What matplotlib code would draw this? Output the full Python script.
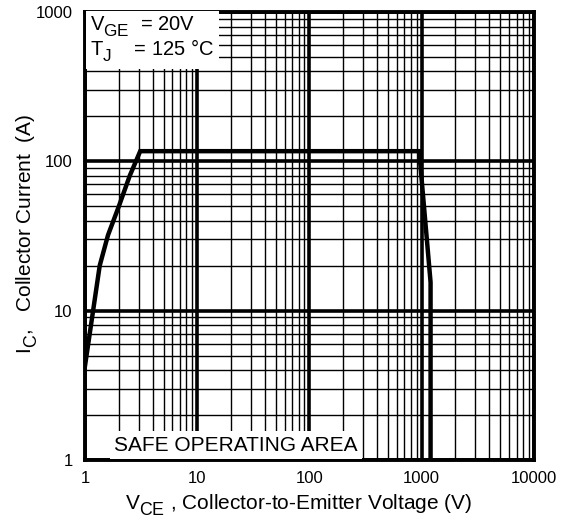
import matplotlib.pyplot as plt
import matplotlib._mathtext as mathtext_internal
from matplotlib.ticker import LogLocator, NullFormatter, FixedLocator, FixedFormatter

plt.rcParams["font.family"] = ["Liberation Sans", "DejaVu Sans"]

# subscripts in the original are only a little smaller than the base letter,
# and sit lower
mathtext_internal.SHRINK_FACTOR = 0.85
mathtext_internal.FontConstantsBase.sub1 = 0.55

# ==========================================
# data
# ==========================================

vce = [1.0, 1.35, 1.6, 2.0, 2.5, 3.1, 950, 1200, 1200]
ic = [4.3, 20, 32, 50, 80, 117, 117, 15.5, 1.0]

x_ticks = [1, 10, 100, 1000, 10000]
x_labels = ["1", "10", "100", "1000", "10000"]
y_ticks = [1, 10, 100, 1000]
y_labels = ["1", "10", "100", "1000"]

# ==========================================
# figure
# ==========================================

fig = plt.figure(figsize=(5.71, 5.25), dpi=100)
ax = fig.add_axes([0.149, 0.124, 0.786, 0.853])

ax.set_xscale("log")
ax.set_yscale("log")
ax.set_xlim(1, 10000)
ax.set_ylim(1, 1000)

ax.xaxis.set_major_locator(FixedLocator(x_ticks))
ax.xaxis.set_major_formatter(FixedFormatter(x_labels))
ax.yaxis.set_major_locator(FixedLocator(y_ticks))
ax.yaxis.set_major_formatter(FixedFormatter(y_labels))
ax.xaxis.set_minor_locator(LogLocator(base=10, subs=range(2, 10), numticks=20))
ax.yaxis.set_minor_locator(LogLocator(base=10, subs=range(2, 10), numticks=20))
ax.xaxis.set_minor_formatter(NullFormatter())
ax.yaxis.set_minor_formatter(NullFormatter())

ax.grid(which="major", color="black", linewidth=2.6)
ax.grid(which="minor", color="black", linewidth=1.0)
ax.set_axisbelow(True)

ax.tick_params(which="both", length=0, labelsize=12)
ax.tick_params(axis="x", pad=8)
ax.tick_params(axis="y", pad=9)

for spine in ax.spines.values():
    spine.set_linewidth(2.8)

ax.plot(vce, ic, color="black", linewidth=3.2, solid_joinstyle="miter", zorder=3)

ax.set_xlabel(r"$\mathregular{V_{CE}}$ , Collector-to-Emitter Voltage (V)", fontsize=15)
ax.set_ylabel(r"$\mathregular{I_C}$,   Collector Current  (A)", fontsize=15)
ax.xaxis.set_label_coords(0.475, -0.074)
ax.yaxis.set_label_coords(-0.101, 0.505)

ax.text(
    0.012, 0.993,
    "$\\mathregular{V_{GE}}$  = 20V\n$\\mathregular{T_J}$    = 125 \u00b0C",
    transform=ax.transAxes, ha="left", va="top", fontsize=14.5,
    linespacing=0.95,
    bbox=dict(facecolor="white", edgecolor="none", pad=3),
    zorder=5,
)

ax.text(
    0.065, 0.012, "SAFE OPERATING AREA",
    transform=ax.transAxes, ha="left", va="bottom", fontsize=15,
    bbox=dict(facecolor="white", edgecolor="none", pad=3),
    zorder=5,
)

fig.savefig("out.png", dpi=100)
